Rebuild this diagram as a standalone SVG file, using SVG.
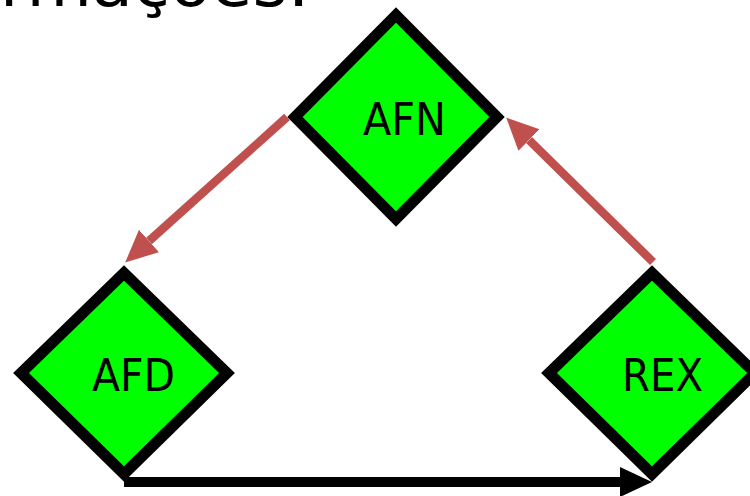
<svg xmlns="http://www.w3.org/2000/svg" width="750" height="496" viewBox="0 0 750 496">
<defs>
<style>
.node{fill:#00ff00;stroke:#000;stroke-width:11;stroke-linejoin:miter}
.lbl{font-family:"DejaVu Sans","Liberation Sans",sans-serif;font-size:45px;fill:#000}
.red{stroke:#c0504d;stroke-width:8.5;fill:none}
.blk{stroke:#000;stroke-width:10;fill:none}
</style>
<marker id="hr" markerUnits="userSpaceOnUse" viewBox="0 -16 33 32" refX="0" refY="0" markerWidth="33" markerHeight="32" orient="auto">
<path d="M0,-15 L32,0 L0,15 z" fill="#c0504d"/>
</marker>
<marker id="hb" markerUnits="userSpaceOnUse" viewBox="0 -16 33 32" refX="0" refY="0" markerWidth="33" markerHeight="32" orient="auto">
<path d="M0,-15 L32,0 L0,15 z" fill="#000"/>
</marker>
</defs>
<text x="0" y="6" font-family="DejaVu Sans,Liberation Sans,sans-serif" font-size="64" textLength="310" lengthAdjust="spacingAndGlyphs">rmações:</text>
<g id="connectors">
<line class="red" x1="287" y1="117" x2="149" y2="241" marker-end="url(#hr)"/>
<line class="red" x1="653" y1="262" x2="529" y2="140" marker-end="url(#hr)"/>
<line class="blk" x1="124" y1="482" x2="620" y2="482" marker-end="url(#hb)"/>
</g>
<g id="AFN">
<path class="node" d="M396,15 L497,117 L396,219 L295,117 Z"/>
<text class="lbl" x="363" y="135" textLength="83" lengthAdjust="spacingAndGlyphs">AFN</text>
</g>
<g id="AFD">
<path class="node" d="M124,273 L227,373 L124,474 L21,373 Z"/>
<text class="lbl" x="92" y="391" textLength="83" lengthAdjust="spacingAndGlyphs">AFD</text>
</g>
<g id="REX">
<path class="node" d="M652,273 L755,373 L652,474 L549,373 Z"/>
<text class="lbl" x="622" y="391" textLength="81" lengthAdjust="spacingAndGlyphs">REX</text>
</g>
</svg>
